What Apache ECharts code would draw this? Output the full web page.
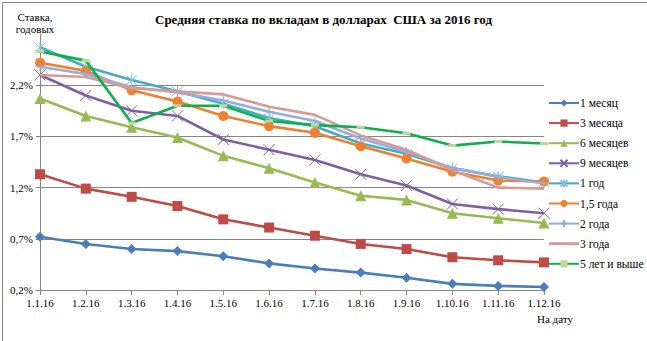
<!DOCTYPE html>
<html><head><meta charset="utf-8">
<script src="https://cdn.jsdelivr.net/npm/echarts@6/dist/echarts.min.js"></script>
<style>html,body{margin:0;padding:0;background:#fff}#c{width:647px;height:341px}</style>
</head><body><div id="c"></div>
<script>
const categories = ['1.1.16','1.2.16','1.3.16','1.4.16','1.5.16','1.6.16','1.7.16','1.8.16','1.9.16','1.10.16','1.11.16','1.12.16'];
const m1  = [0.72,0.65,0.60,0.58,0.53,0.46,0.41,0.37,0.32,0.26,0.24,0.23];
const m3  = [1.33,1.19,1.11,1.02,0.89,0.81,0.73,0.65,0.60,0.52,0.49,0.47];
const m6  = [2.07,1.90,1.79,1.69,1.51,1.39,1.25,1.12,1.08,0.95,0.90,0.855];
const m9  = [2.30,2.10,1.95,1.90,1.67,1.57,1.47,1.33,1.22,1.04,0.99,0.95];
const y1  = [2.57,2.38,2.25,2.14,2.02,1.88,1.80,1.63,1.53,1.39,1.31,1.25];
const y15 = [2.42,2.34,2.15,2.04,1.90,1.80,1.735,1.605,1.485,1.355,1.27,1.26];
const y2  = [2.38,2.31,2.18,2.13,2.05,1.94,1.85,1.68,1.55,1.39,1.305,1.24];
const y3  = [2.30,2.28,2.17,2.14,2.11,1.99,1.91,1.71,1.57,1.37,1.20,1.19];
const y5  = [2.53,2.44,1.83,2.00,2.00,1.85,1.81,1.79,1.73,1.61,1.65,1.63];
const seriesNames = ['1 месяц','3 месяца','6 месяцев','9 месяцев','1 год','1,5 года','2 года','3 года','5 лет и выше'];
const yTicks = [0.7,1.2,1.7,2.2];

const serif = 'Liberation Serif';
const colors = ['#4A7EBB','#BE4B48','#98B954','#7D60A0','#46AAC5','#F08030','#93AEDA','#D69A98','#0DB04B'];
const X = 'path://M0,0L10,10M0,10L10,0';
const AST = 'path://M0,0L10,10M0,10L10,0M5,-1L5,11';
const PLUS = 'path://M5,0L5,10M0,5L10,5';
const BAR = 'path://M0,0M30,9M0,3L30,3L30,6L0,6Z';
const symbols = [
  {symbol:'diamond', size:10},
  {symbol:'rect', size:10},
  {symbol:'triangle', size:11},
  {symbol:X, size:11, stroke:'#7D60A0'},
  {symbol:AST, size:11, stroke:'#7FC3DD'},
  {symbol:'circle', size:10},
  {symbol:PLUS, size:9, stroke:'#93AEDA'},
  {symbol:'none', size:0},
  {symbol:'rect', size:[8,3], fill:'#C3D69B', stroke:'#C3D69B'}
];
const datas = [m1,m3,m6,m9,y1,y15,y2,y3,y5];

const series = datas.map((d,i)=>{
  const s = symbols[i];
  return {
    name: seriesNames[i], type:'line', data:d,
    symbol: s.symbol, symbolSize: s.size, showAllSymbol:true,
    lineStyle:{color:colors[i], width:2.6},
    itemStyle:{color: s.fill || (s.stroke ? 'transparent' : colors[i]),
               borderColor: s.stroke || colors[i], borderWidth: (s.stroke && !s.fill) ? 1 : 0},
    emphasis:{disabled:true}, animation:false, z: 3 + i
  };
});
series[0].markLine = {
  silent:true, symbol:'none', z:1, animation:false,
  label:{show:false},
  lineStyle:{color:'#868686', width:1, type:'solid'},
  data: yTicks.map(v=>({yAxis:v}))
};

const legendData = seriesNames.map(n => n === '3 года' ? {name:n, icon:BAR} : n);

const chart = echarts.init(document.getElementById('c'), null, {renderer:'svg'});
chart.setOption({
  animation:false,
  color: colors,
  title:{text:'Средняя ставка по вкладам в долларах  США за 2016 год', left:'center', top:8,
    textStyle:{fontFamily:serif, fontSize:13, fontWeight:'bold', color:'#000'}},
  grid:{left:40, right:103, top:34, bottom:51},
  legend:{orient:'vertical', left:543, top:92, itemWidth:30, itemHeight:9, itemGap:8.1,
    textStyle:{fontFamily:serif, fontSize:11.5, color:'#000', padding:[0,0,0,-4]},
    data: legendData},
  xAxis:{type:'category', data:categories, boundaryGap:false,
    axisLine:{lineStyle:{color:'#868686'}},
    axisTick:{show:true, length:5, lineStyle:{color:'#868686'}},
    axisLabel:{fontFamily:serif, fontSize:11, color:'#000', margin:7}},
  yAxis:{type:'value', min:0.2, max:2.7, interval:0.5,
    axisLine:{show:true, lineStyle:{color:'#868686'}},
    axisTick:{show:true, length:4, lineStyle:{color:'#868686'}},
    splitLine:{show:false},
    axisLabel:{fontFamily:serif, fontSize:11, color:'#000', margin:7, showMaxLabel:false,
      formatter:v=>v.toFixed(1).replace('.',',')+'%'}},
  graphic:[
    {type:'rect', left:0, top:0, shape:{x:0.5,y:0.5,width:646,height:340}, style:{fill:'none', stroke:'#868686', lineWidth:1}, silent:true},
    {type:'text', x:35, y:11, style:{text:'Ставка,\nгодовых', align:'center', verticalAlign:'top', fontFamily:serif, fontSize:11, lineHeight:12, fill:'#000'}},
    {type:'text', x:555, y:313, style:{text:'На дату', align:'center', verticalAlign:'top', fontFamily:serif, fontSize:11, fill:'#000'}}
  ],
  series: series
});
</script></body></html>
